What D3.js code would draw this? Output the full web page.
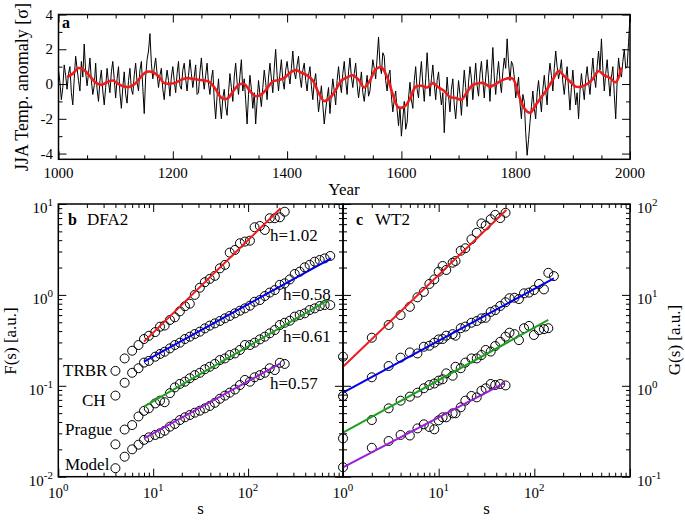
<!DOCTYPE html>
<html><head><meta charset="utf-8">
<script src="https://cdn.jsdelivr.net/npm/d3@7"></script>
<style>
body{margin:0;background:#fff}
svg{display:block}
text{font-family:"Liberation Serif","Times New Roman",Times,serif;fill:#000}
</style>
</head><body>
<svg id="chart" width="685" height="521"></svg>
<script>
// ---------------- DATA ----------------
// Panel a: JJA temperature anomaly (sigma), sampled every 2.5 years from 1000
const yearStart = 1000, yearStep = 2.5;
const tempAnnual = [
 0.8,0.1,-0.9,-0.2,1.1,0.5,-0.3,0.6,1.0,-0.5,-1.2,0.3,1.6,0.9,0.2,-0.4,1.3,0.4,2.3,0.7,
 -0.1,0.6,1.5,0.2,-0.6,-0.1,1.2,-0.3,-1.0,0.2,0.8,-0.4,-1.2,-0.2,0.9,0.1,-0.5,0.7,1.3,0.3,
 -0.8,0.3,1.0,-0.5,-1.4,-0.2,0.7,-0.6,-1.1,0.2,0.9,-0.3,-0.6,0.5,1.2,0.1,-0.4,0.8,1.3,-0.2,
 -1.7,0.4,1.4,1.9,2.9,1.2,0.3,0.9,1.5,0.6,-0.2,0.5,0.9,-0.3,-0.9,0.1,0.8,0.2,-0.7,0.4,
 1.0,0.2,-0.5,0.6,1.3,-0.1,-0.3,0.8,1.2,0.3,-0.4,0.5,1.4,0.6,-0.2,0.4,1.1,-0.6,-0.5,0.7,
 1.5,0.4,-0.3,0.5,1.2,0.0,-0.6,0.3,0.8,-0.9,-2.0,-0.7,0.3,-1.1,-2.0,-0.8,-0.3,-1.3,-1.8,-0.5,
 0.6,-0.2,-1.0,0.4,1.2,0.1,-0.6,0.5,1.4,-0.4,0.3,-0.9,-2.3,-0.6,0.5,-0.3,-1.4,-0.5,-2.3,-1.0,
 0.2,-0.6,-1.3,-0.2,0.8,0.1,-0.9,0.4,1.2,0.3,-0.5,0.9,2.0,0.5,-0.4,0.6,1.4,0.2,-0.3,0.8,
 1.3,0.6,0.0,0.9,1.9,0.7,0.3,1.1,1.6,0.4,-0.2,0.8,1.2,0.2,-0.4,0.5,1.0,-0.1,-0.9,0.1,
 0.6,-0.5,-1.6,-0.9,-0.1,-1.2,-2.3,-1.5,-0.8,-0.2,-1.7,-0.6,0.3,-0.4,-1.2,0.2,1.0,0.1,-0.5,0.6,
 1.3,0.2,-0.6,0.7,1.5,0.4,-0.2,0.6,1.2,0.0,-0.8,-0.1,0.7,-0.5,-1.0,-0.2,0.5,-0.7,-0.4,0.5,
 1.4,0.9,0.3,1.5,2.7,1.1,0.6,1.8,1.6,0.2,-0.4,0.5,0.8,-0.7,-1.6,-0.9,-0.4,-1.5,-2.4,-1.3,
 -3.0,-2.0,-1.0,-2.6,-2.2,-0.8,0.1,-0.9,-1.4,0.2,1.0,-0.3,-0.8,0.4,1.3,0.0,-1.0,0.3,1.8,0.4,
 -0.7,0.3,1.1,0.0,-0.9,0.2,0.7,-0.4,-1.2,-0.5,-2.8,-1.0,0.4,-0.7,-1.6,-0.3,0.3,-1.2,-2.0,-0.9,
 0.2,-0.6,-1.8,-0.4,0.8,-0.2,-1.3,0.1,1.0,0.3,-0.9,0.2,1.2,-0.1,-0.7,0.6,1.3,0.2,-0.8,0.4,
 1.4,0.3,-1.0,0.6,2.1,0.4,-0.6,0.5,1.3,0.2,-0.5,0.7,1.5,0.9,2.6,1.2,0.2,1.3,1.1,0.4,
 -0.8,-0.2,0.4,-1.1,-2.0,-0.6,-1.0,-2.8,-4.1,-3.2,-2.2,-1.3,-0.4,-1.4,-2.0,-0.5,0.2,-0.8,-1.6,-0.3,
 0.5,-0.4,-1.2,0.4,1.2,0.5,-0.4,0.9,1.9,1.0,0.3,0.8,1.4,0.1,-0.6,0.3,1.0,-0.3,-1.5,-0.2,
 0.8,-0.3,-1.2,-0.5,-2.0,-0.4,0.6,-0.2,-0.9,0.3,1.0,0.1,-0.6,0.5,1.5,0.4,-0.2,1.0,1.9,0.8,
 2.6,0.9,-0.4,0.6,1.4,0.3,-0.7,0.4,1.0,-0.6,-2.0,0.2,1.5,0.7,0.4,1.3,2.0,0.9,1.0,2.4,
 3.9];
// smoothed curve, every 10 years from 1015
const smoothStart = 1015, smoothStep = 10;
const tempSmooth = [
 0.40,0.60,0.92,0.80,0.45,0.08,-0.05,0.10,0.20,0.00,
 -0.15,-0.15,0.05,0.45,0.70,0.68,0.45,0.05,0.02,0.08,
 0.25,0.35,0.30,0.25,0.20,0.10,-0.30,-0.80,-0.85,-0.45,
 -0.05,0.00,-0.40,-0.70,-0.60,-0.25,0.15,0.22,0.35,0.65,
 0.80,0.65,0.50,0.20,-0.50,-0.98,-0.80,-0.35,0.20,0.38,
 0.50,0.25,-0.20,0.20,0.85,0.95,0.40,-0.60,-1.35,-1.30,
 -0.85,-0.15,-0.10,-0.20,0.05,-0.20,-0.40,-0.75,-0.80,-0.90,
 -0.45,-0.05,0.05,0.05,-0.15,0.00,0.20,0.32,0.30,-0.60,
 -1.40,-1.65,-1.20,-0.75,-0.30,0.25,0.75,0.45,0.15,-0.15,
 -0.15,0.00,0.30,0.75,0.50,0.35,0.10,0.95];
const yearTicks = [1000,1200,1400,1600,1800,2000];
const yearMinor = [1050,1100,1150,1250,1300,1350,1450,1500,1550,1650,1700,1750,1850,1900,1950];
const tempTicks = [-4,-2,0,2,4];
const tempMinor = [-3,-1,1,3];

// Panel b: DFA2 fluctuation functions
const seriesNames = ["TRBR","CH","Prague","Model"];
const sDFA = [4,5,6,7,8,9,10.5,11.8,13.2,15,16.9,19.1,21.6,24.3,27.4,31,35,39.4,44.6,50.4,
 57,64,72.6,82,92.5,104.5,117,133,150,169,191,216,243,275,310,350,395,445,503,568,641,734];
const fTRBR = [0.146,0.2,0.243,0.281,0.327,0.355,0.39,0.447,0.46,0.53,0.567,0.66,0.75,0.8,1.0,1.2,1.38,1.5,1.62,1.96,
 2.14,2.92,3.12,3.7,3.86,3.95,5.55,5.73,5.18,6.97,6.97,7.14,8.23];
const fCH = [0.078,0.108,0.139,0.156,0.18,0.188,0.209,0.224,0.237,0.258,0.281,0.298,0.327,0.347,0.371,0.394,0.428,0.459,0.486,0.516,
 0.552,0.586,0.627,0.67,0.711,0.761,0.841,0.878,0.972,1.06,1.13,1.29,1.34,1.48,1.7,1.8,2.01,2.14,2.32,2.42,2.52,2.68];
const fPrague = [0.0227,0.033,0.037,0.046,0.053,0.0565,0.064,0.0687,0.066,0.083,0.096,0.105,0.111,0.121,0.131,0.139,0.152,0.162,0.174,0.192,
 0.2,0.218,0.227,0.248,0.281,0.281,0.298,0.324,0.347,0.378,0.411,0.467,0.494,0.52,0.577,0.601,0.627,0.682,0.711,0.754,0.773,0.773];
const fModel = [0.0124,0.0166,0.020,0.0225,0.0254,0.0271,0.0288,0.030,0.032,0.0355,0.038,0.042,0.045,0.0477,0.0506,0.0532,0.0565,0.060,0.065,0.072,
 0.078,0.084,0.091,0.102,0.116,0.111,0.124,0.131,0.139,0.156,0.149,0.179,0.174];
// fit lines [s0, s1] and [F0, F1]
const fitDFA_s = [[8,220],[8,750],[8,720],[8,220]];
const fitDFA_f = [[0.306,8.96],[0.184,2.53],[0.059,0.895],[0.0264,0.177]];
const hLabels = ["h=1.02","h=0.58","h=0.61","h=0.57"];

// Panel c: WT2 fluctuation functions
const sWT = [1,2,3,4,5,6,7,8,9,10,11,12,14,15,17,19,22,25,28,31,35,39,44,50,55,62,69,78,88,99,112,126,140,160];
const gTRBR = [2.09,3.38,4.67,6.0,7.4,9.4,10.8,13.2,14.8,18,20.8,18.8,22.6,23.6,30.6,32.6,40.9,48.3,61.2,58,68,76,70,80];
const gCH = [0.77,1.24,1.65,2.04,2.33,2.27,2.69,2.76,2.98,3.24,3.27,3.56,3.7,3.56,4.3,4.48,4.94,5.16,5.52,5.6,
 6.5,6.8,7.55,8.3,9.2,9.3,9.0,10.4,10.6,11.3,13.2,11.5,17.5,16.1];
const gPrague = [0.264,0.42,0.565,0.686,0.76,0.84,0.94,1.02,1.06,1.14,1.18,1.37,1.29,1.62,1.56,1.8,2.0,2.0,2.18,2.48,
 2.38,2.74,3.05,3.47,3.84,3.7,3.18,4.3,4.56,3.62,4.1,4.2,4.3];
const gModel = [0.127,0.208,0.247,0.288,0.284,0.34,0.377,0.352,0.332,0.417,0.45,0.45,0.498,0.498,0.58,0.686,0.773,0.746,0.883,0.938,
 1.047,1.02,1.047,1.01];
const fitWT_s = [[1,51],[1,160],[1,140],[1,49]];
const fitWT_g = [[1.62,86],[0.84,15.2],[0.305,5.3],[0.127,1.08]];

// ---------------- STYLE ----------------
const colors = ["#ee1c1c","#0000ee","#1f9e1f","#9a1fd6"];
const FS = 15, TFS = 17;

const svg = d3.select("#chart");
svg.append("rect").attr("width",685).attr("height",521).attr("fill","#fff");

function tickAxis(g, axisFn, scale, values, size, tr){
  g.append("g").attr("transform",tr)
   .call(axisFn(scale).tickValues(values).tickSize(-size).tickSizeOuter(0).tickFormat(""))
   .call(a=>a.select(".domain").remove())
   .selectAll("line").attr("stroke","#000").attr("stroke-width",1);
}
function frameTicks(g, x, y, xMaj, xMin, yMaj, yMin){
  const [l,r] = x.range(), [b,t] = y.range();
  [[d3.axisBottom,`translate(0,${b})`],[d3.axisTop,`translate(0,${t})`]].forEach(([f,tr])=>{
    tickAxis(g,f,x,xMaj,8,tr); tickAxis(g,f,x,xMin,4,tr);
  });
  [[d3.axisLeft,`translate(${l},0)`],[d3.axisRight,`translate(${r},0)`]].forEach(([f,tr])=>{
    tickAxis(g,f,y,yMaj,8,tr); tickAxis(g,f,y,yMin,4,tr);
  });
  g.append("rect").attr("x",l).attr("y",t).attr("width",r-l).attr("height",b-t)
   .attr("fill","none").attr("stroke","#000").attr("stroke-width",1.5);
}
function logMinors(lo,hi){
  const out=[];
  for(let d=Math.round(Math.log10(lo)); d<Math.round(Math.log10(hi)); d++)
    for(let k=2;k<=9;k++) out.push(k*Math.pow(10,d));
  return out;
}
function logMajors(lo,hi){
  const out=[];
  for(let d=Math.round(Math.log10(lo)); d<=Math.round(Math.log10(hi)); d++) out.push(Math.pow(10,d));
  return out;
}
function supLabel(g,x,y,exp,anchor){
  const t=g.append("text").attr("x",x).attr("y",y).attr("text-anchor",anchor).attr("font-size",FS);
  t.append("tspan").text("10");
  t.append("tspan").attr("dy",-7).attr("font-size",11).text(exp);
}

// ---------------- PANEL A ----------------
const ga = svg.append("g");
const xa = d3.scaleLinear([1000,2000],[58.5,630]);
const ya = d3.scaleLinear([-4.33,4],[159.3,14.5]);
ga.append("path").datum(tempAnnual)
  .attr("d", d3.line().x((d,i)=>xa(yearStart+i*yearStep)).y(d=>ya(d)))
  .attr("fill","none").attr("stroke","#000").attr("stroke-width",1).attr("stroke-linejoin","round");
ga.append("path").datum(tempSmooth)
  .attr("d", d3.line().curve(d3.curveCatmullRom).x((d,i)=>xa(smoothStart+i*smoothStep)).y(d=>ya(d)))
  .attr("fill","none").attr("stroke","#ee1c1c").attr("stroke-width",2.6);
frameTicks(ga, xa, ya, yearTicks, yearMinor, tempTicks, tempMinor);
yearTicks.forEach(v=>ga.append("text").attr("x",xa(v)).attr("y",178).attr("text-anchor","middle").attr("font-size",FS).text(v));
tempTicks.forEach(v=>ga.append("text").attr("x",53).attr("y",ya(v)+5).attr("text-anchor","end").attr("font-size",FS).text(v));
ga.append("text").attr("x",344).attr("y",195).attr("text-anchor","middle").attr("font-size",TFS).text("Year");
ga.append("text").attr("transform","translate(28,87) rotate(-90)").attr("text-anchor","middle").attr("font-size",18).text("JJA Temp. anomaly [σ]");
ga.append("text").attr("x",62).attr("y",28).attr("font-size",16).attr("font-weight","bold").text("a");

// ---------------- PANEL B ----------------
const gb = svg.append("g");
const xb = d3.scaleLog([1,1000],[58.3,343]);
const yb = d3.scaleLog([0.01,10],[476.7,204]);
const dfaSets = [fTRBR,fCH,fPrague,fModel];
dfaSets.forEach((vals,k)=>{
  gb.append("g").selectAll("circle").data(vals).join("circle")
    .attr("cx",(d,i)=>xb(sDFA[i])).attr("cy",d=>yb(d)).attr("r",4.5)
    .attr("fill","none").attr("stroke","#000").attr("stroke-width",1);
});
dfaSets.forEach((vals,k)=>{
  gb.append("line")
    .attr("x1",xb(fitDFA_s[k][0])).attr("y1",yb(fitDFA_f[k][0]))
    .attr("x2",xb(fitDFA_s[k][1])).attr("y2",yb(fitDFA_f[k][1]))
    .attr("stroke",colors[k]).attr("stroke-width",2);
});
frameTicks(gb, xb, yb, logMajors(1,1000), logMinors(1,1000), logMajors(0.01,10), logMinors(0.01,10));
[[1,"0"],[10,"1"],[100,"2"]].forEach(([v,e])=>supLabel(gb,xb(v),498,e,"middle"));
[[0.01,"-2"],[0.1,"-1"],[1,"0"],[10,"1"]].forEach(([v,e])=>supLabel(gb,53,yb(v)+9,e,"end"));
gb.append("text").attr("x",200.5).attr("y",514).attr("text-anchor","middle").attr("font-size",TFS).text("s");
gb.append("text").attr("transform","translate(16,341) rotate(-90)").attr("text-anchor","middle").attr("font-size",TFS).text("F(s) [a.u.]");
gb.append("text").attr("x",68).attr("y",225).attr("font-size",16).attr("font-weight","bold").text("b");
gb.append("text").attr("x",87).attr("y",225).attr("font-size",TFS).text("DFA2");
const namePos = [[63,376],[82,406],[65,435],[65,470]];
seriesNames.forEach((n,k)=>gb.append("text").attr("x",namePos[k][0]).attr("y",namePos[k][1]).attr("font-size",TFS).text(n));
const hPos = [[270,241],[283,300],[283,342],[270,389]];
hLabels.forEach((h,k)=>gb.append("text").attr("x",hPos[k][0]).attr("y",hPos[k][1]).attr("font-size",TFS).text(h));

// ---------------- PANEL C ----------------
const gc = svg.append("g");
const xc = d3.scaleLog([1,1000],[343,630]);
const yc = d3.scaleLog([0.1,100],[476.7,204]);
const wtSets = [gTRBR,gCH,gPrague,gModel];
wtSets.forEach((vals,k)=>{
  gc.append("g").selectAll("circle").data(vals).join("circle")
    .attr("cx",(d,i)=>xc(sWT[i])).attr("cy",d=>yc(d)).attr("r",4.5)
    .attr("fill","none").attr("stroke","#000").attr("stroke-width",1);
});
wtSets.forEach((vals,k)=>{
  gc.append("line")
    .attr("x1",xc(fitWT_s[k][0])).attr("y1",yc(fitWT_g[k][0]))
    .attr("x2",xc(fitWT_s[k][1])).attr("y2",yc(fitWT_g[k][1]))
    .attr("stroke",colors[k]).attr("stroke-width",2);
});
frameTicks(gc, xc, yc, logMajors(1,1000), logMinors(1,1000), logMajors(0.1,100), logMinors(0.1,100));
[[1,"0"],[10,"1"],[100,"2"]].forEach(([v,e])=>supLabel(gc,xc(v),498,e,"middle"));
[[0.1,"-1"],[1,"0"],[10,"1"],[100,"2"]].forEach(([v,e])=>supLabel(gc,637,yc(v)+9,e,"start"));
gc.append("text").attr("x",486.5).attr("y",514).attr("text-anchor","middle").attr("font-size",TFS).text("s");
gc.append("text").attr("transform","translate(680,340) rotate(-90)").attr("text-anchor","middle").attr("font-size",TFS).text("G(s) [a.u.]");
gc.append("text").attr("x",356).attr("y",225).attr("font-size",16).attr("font-weight","bold").text("c");
gc.append("text").attr("x",375).attr("y",225).attr("font-size",TFS).text("WT2");
</script>
</body></html>
